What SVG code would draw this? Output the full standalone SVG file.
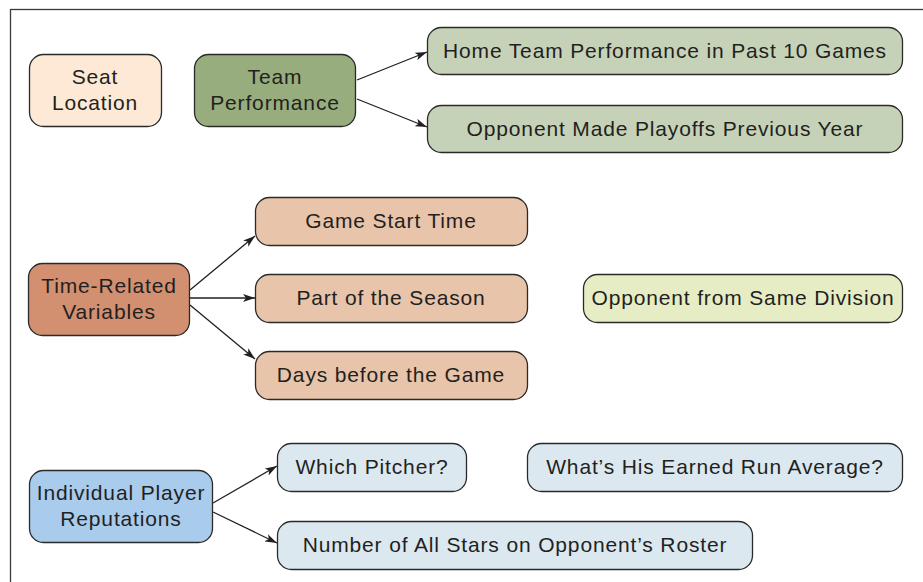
<svg xmlns="http://www.w3.org/2000/svg" width="923" height="582" viewBox="0 0 923 582">
<style>
.n{stroke:#2a2a2a;stroke-width:1.3}
.t{font-family:"Liberation Sans",Arial,sans-serif;font-size:21px;letter-spacing:0.85px;fill:#231f20;text-anchor:middle}
.c{stroke:#231f20;stroke-width:1.3;fill:none;marker-end:url(#ah)}
</style>
<defs>
<marker id="ah" viewBox="0 0 12 8" refX="12" refY="4" markerWidth="12" markerHeight="8" markerUnits="userSpaceOnUse" orient="auto">
<path d="M0,0 L12,4 L0,8 L3,4 Z" fill="#231f20"/>
</marker>
</defs>
<rect width="923" height="582" fill="#fff"/>
<rect x="10.5" y="9.5" width="930" height="590" fill="none" stroke="#3a3a3a" stroke-width="1.3"/>
<g id="connectors">
<line class="c" x1="357" y1="80" x2="427" y2="52"/>
<line class="c" x1="357" y1="99" x2="427" y2="127"/>
<line class="c" x1="190" y1="290" x2="255" y2="236"/>
<line class="c" x1="190" y1="298" x2="255" y2="298"/>
<line class="c" x1="190" y1="305" x2="255" y2="359"/>
<line class="c" x1="213" y1="503" x2="277" y2="466"/>
<line class="c" x1="213" y1="512" x2="277" y2="543"/>
</g>
<g id="seat"><rect class="n" x="29.5" y="54.5" width="132" height="72" rx="14" fill="#fde9d6"/><text class="t" x="95" y="84">Seat</text><text class="t" x="95" y="110">Location</text></g>
<g id="team"><rect class="n" x="194.5" y="54.5" width="161" height="72" rx="14" fill="#98ad7e"/><text class="t" x="275" y="84">Team</text><text class="t" x="275" y="110">Performance</text></g>
<g id="home"><rect class="n" x="427.5" y="27.5" width="475" height="47" rx="14" fill="#c6d2b8"/><text class="t" x="665" y="58">Home Team Performance in Past 10 Games</text></g>
<g id="playoffs"><rect class="n" x="427.5" y="105.5" width="475" height="47" rx="14" fill="#c6d2b8"/><text class="t" x="665" y="136">Opponent Made Playoffs Previous Year</text></g>
<g id="time"><rect class="n" x="28.5" y="263.5" width="161" height="72" rx="14" fill="#d29071"/><text class="t" x="109" y="293">Time-Related</text><text class="t" x="109" y="319">Variables</text></g>
<g id="start"><rect class="n" x="255.5" y="197.5" width="272" height="48" rx="14" fill="#e8c4aa"/><text class="t" x="391" y="228">Game Start Time</text></g>
<g id="season"><rect class="n" x="255.5" y="274.5" width="272" height="48" rx="14" fill="#e8c4aa"/><text class="t" x="391" y="305">Part of the Season</text></g>
<g id="days"><rect class="n" x="255.5" y="351.5" width="272" height="48" rx="14" fill="#e8c4aa"/><text class="t" x="391" y="382">Days before the Game</text></g>
<g id="division"><rect class="n" x="583.5" y="274.5" width="319" height="48" rx="14" fill="#e6edc4"/><text class="t" x="743" y="305">Opponent from Same Division</text></g>
<g id="player"><rect class="n" x="29.5" y="470.5" width="183" height="72" rx="14" fill="#a9cbec"/><text class="t" x="121" y="500">Individual Player</text><text class="t" x="121" y="526">Reputations</text></g>
<g id="pitcher"><rect class="n" x="277.5" y="443.5" width="189" height="48" rx="14" fill="#dbe8f0"/><text class="t" x="372" y="474">Which Pitcher?</text></g>
<g id="era"><rect class="n" x="527.5" y="443.5" width="375" height="48" rx="14" fill="#dbe8f0"/><text class="t" x="715" y="474">What’s His Earned Run Average?</text></g>
<g id="allstars"><rect class="n" x="277.5" y="521.5" width="475" height="48" rx="14" fill="#dbe8f0"/><text class="t" x="515" y="552">Number of All Stars on Opponent’s Roster</text></g>
</svg>
